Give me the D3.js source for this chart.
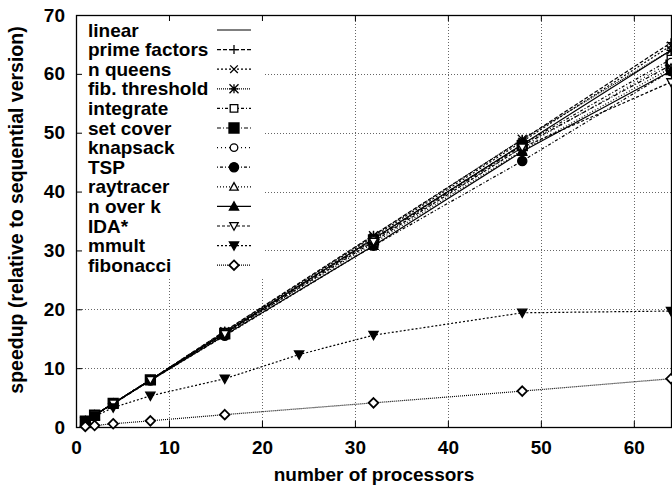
<!DOCTYPE html>
<html><head><meta charset="utf-8">
<script src="https://cdn.jsdelivr.net/npm/d3@7"></script>
<style>body{margin:0;background:#fff}svg{display:block}text{font-family:"Liberation Sans",Arial,sans-serif;font-weight:bold;fill:#000}</style>
</head><body><div id="chart"></div>
<script>
const processors = [1, 2, 4, 8, 16, 32, 48, 64];
const mmultProcessors = [1, 2, 4, 8, 16, 24, 32, 48, 64];
const xTicks = [0, 10, 20, 30, 40, 50, 60];
const yTicks = [0, 10, 20, 30, 40, 50, 60, 70];
const linear = [1, 2, 4, 8, 16, 32, 48, 64];
const primeFactors = [1, 2, 4, 8, 16.3, 32.6, 48.8, 65.3];
const nQueens = [1, 2, 4, 8, 16.2, 32.3, 48.5, 64.8];
const fibThreshold = [1, 2, 4, 8, 16.2, 32.5, 48.9, 64];
const integrate = [1, 2, 4, 8, 16, 32, 48, 62.5];
const setCover = [1, 2, 4, 8, 15.9, 31.8, 47.8, 61.5];
const knapsack = [1, 2, 4, 8, 16, 31.7, 47.5, 62];
const tsp = [1, 2, 3.9, 7.9, 15.5, 30.8, 45.2, 60.5];
const raytracer = [1, 2, 4, 8, 15.8, 31.2, 47, 61];
const nOverK = [1, 2, 4, 7.9, 15.6, 30.8, 46.8, 60.5];
const idaStar = [1, 2, 4, 8, 15.8, 31.5, 47.5, 58.6];
const mmult = [0.95, 1.8, 3.3, 5.3, 8.2, 12.3, 15.6, 19.4, 19.7];
const fibonacci = [0.1, 0.25, 0.55, 1.05, 2.1, 4.1, 6.1, 8.2];

const series = [
  {name: "linear", x: processors, y: linear, dash: null, marker: null},
  {name: "prime factors", x: processors, y: primeFactors, dash: "4,2", marker: "plus"},
  {name: "n queens", x: processors, y: nQueens, dash: "2,2", marker: "cross"},
  {name: "fib. threshold", x: processors, y: fibThreshold, dash: "1,1", marker: "star"},
  {name: "integrate", x: processors, y: integrate, dash: "3,2,1,2", marker: "square"},
  {name: "set cover", x: processors, y: setCover, dash: "4,2,1,2", marker: "squareF"},
  {name: "knapsack", x: processors, y: knapsack, dash: "1,3", marker: "circle"},
  {name: "TSP", x: processors, y: tsp, dash: "1,2,3,2", marker: "circleF"},
  {name: "raytracer", x: processors, y: raytracer, dash: "1,2", marker: "tri"},
  {name: "n over k", x: processors, y: nOverK, dash: null, marker: "triF"},
  {name: "IDA*", x: processors, y: idaStar, dash: "3,2", marker: "triD"},
  {name: "mmult", x: mmultProcessors, y: mmult, dash: "2,2", marker: "triDF"},
  {name: "fibonacci", x: processors, y: fibonacci, dash: "1,1", marker: "diamond"}
];

const W = 672, H = 487;
const m = {left: 76, top: 15, right: 671, bottom: 427};
const svg = d3.select("#chart").append("svg").attr("width", W).attr("height", H);
const x = d3.scaleLinear().domain([0, 64]).range([m.left, m.right]);
const y = d3.scaleLinear().domain([0, 70]).range([m.bottom, m.top]);

// grid
const grid = svg.append("g").attr("stroke", "#666").attr("stroke-width", 1).attr("stroke-dasharray", "1,2");
xTicks.filter(t => t > 0).forEach(t => grid.append("line").attr("x1", Math.round(x(t)) + .5).attr("x2", Math.round(x(t)) + .5).attr("y1", m.top).attr("y2", m.bottom));
yTicks.filter(t => t > 0 && t < 70).forEach(t => grid.append("line").attr("x1", m.left).attr("x2", m.right).attr("y1", Math.round(y(t)) + .5).attr("y2", Math.round(y(t)) + .5));

// legend background
const legX = 77, legY = 16, legW = 186, legH = 261;
svg.append("rect").attr("x", legX).attr("y", legY).attr("width", legW).attr("height", legH).attr("fill", "#fff");

// axes
const fs = 19;
const xAxis = d3.axisBottom(x).tickValues(xTicks).tickSizeInner(-6).tickSizeOuter(0).tickPadding(14);
const gx = svg.append("g").attr("transform", `translate(0,${m.bottom})`).call(xAxis);
gx.selectAll("text").attr("font-size", fs).attr("font-family", "Liberation Sans, Arial").attr("font-weight", "bold");
const xTop = d3.axisTop(x).tickValues(xTicks).tickSizeInner(-6).tickSizeOuter(0).tickFormat("");
svg.append("g").attr("transform", `translate(0,${m.top})`).call(xTop);
const yAxis = d3.axisLeft(y).tickValues(yTicks).tickSizeInner(-6).tickSizeOuter(0).tickPadding(11);
const gy = svg.append("g").attr("transform", `translate(${m.left},0)`).call(yAxis);
gy.selectAll("text").attr("font-size", fs).attr("font-family", "Liberation Sans, Arial").attr("font-weight", "bold");
svg.selectAll(".domain").remove();
svg.selectAll(".tick line").attr("stroke", "#000");
svg.append("rect").attr("x", m.left + .5).attr("y", m.top + .5).attr("width", m.right - m.left).attr("height", m.bottom - m.top)
  .attr("fill", "none").attr("stroke", "#000").attr("stroke-width", 1.3);

// marker paths
function markerPath(type, s) {
  const r = s;
  switch (type) {
    case "plus": return `M${-r},0H${r}M0,${-r}V${r}`;
    case "cross": return `M${-r},${-r}L${r},${r}M${-r},${r}L${r},${-r}`;
    case "star": return `M${-r},0H${r}M0,${-r}V${r}M${-r},${-r}L${r},${r}M${-r},${r}L${r},${-r}`;
    case "square": case "squareF": return `M${-r},${-r}H${r}V${r}H${-r}Z`;
    case "circle": case "circleF": return `M${r},0A${r},${r},0,1,1,${-r},0A${r},${r},0,1,1,${r},0Z`;
    case "tri": case "triF": return `M0,${-r}L${r},${r * 0.8}L${-r},${r * 0.8}Z`;
    case "triD": case "triDF": return `M0,${r}L${r},${-r * 0.8}L${-r},${-r * 0.8}Z`;
    case "diamond": return `M0,${-r}L${r},0L0,${r}L${-r},0Z`;
  }
  return "";
}
const filled = t => t.endsWith("F");
const msize = {plus: 4.5, cross: 3.8, star: 4.5, square: 3.8, squareF: 5, circle: 3.8, circleF: 4.6, tri: 4.2, triF: 4.6, triD: 4.2, triDF: 4.6, diamond: 4.8};

const line = d3.line().x(d => x(d[0])).y(d => y(d[1]));
const plot = svg.append("g");
series.forEach(s => {
  const pts = s.x.map((v, i) => [v, s.y[i]]);
  plot.append("path").attr("d", line(pts)).attr("fill", "none").attr("stroke", "#000").attr("stroke-width", 1.2)
    .attr("stroke-dasharray", s.dash);
  if (s.marker) {
    plot.selectAll(null).data(pts).join("path")
      .attr("transform", d => `translate(${x(d[0])},${y(d[1])})`)
      .attr("d", markerPath(s.marker, msize[s.marker]))
      .attr("fill", filled(s.marker) ? "#000" : (["plus","cross","star"].includes(s.marker) ? "none" : "#fff"))
      .attr("stroke", "#000").attr("stroke-width", s.marker === "diamond" ? 1.8 : 1.3);
  }
});

// legend
const leg = svg.append("g");
series.forEach((s, i) => {
  const ly = 30 + i * 19.6;
  leg.append("text").attr("x", 88).attr("y", ly).attr("dy", "0.35em").attr("font-size", fs).text(s.name);
  leg.append("line").attr("x1", 217).attr("x2", 251).attr("y1", ly).attr("y2", ly).attr("stroke", "#000").attr("stroke-width", 1.2)
    .attr("stroke-dasharray", s.dash);
  if (s.marker) {
    leg.append("path").attr("transform", `translate(234,${ly})`).attr("d", markerPath(s.marker, msize[s.marker]))
      .attr("fill", filled(s.marker) ? "#000" : (["plus","cross","star"].includes(s.marker) ? "none" : "#fff"))
      .attr("stroke", "#000").attr("stroke-width", s.marker === "diamond" ? 1.8 : 1.3);
  }
});

// axis titles
svg.append("text").attr("x", 374).attr("y", 474).attr("dy", "0.35em").attr("text-anchor", "middle").attr("font-size", fs).text("number of processors");
svg.append("text").attr("transform", "translate(16,210) rotate(-90)").attr("dy", "0.35em").attr("text-anchor", "middle").attr("font-size", 19.5).text("speedup (relative to sequential version)");
</script></body></html>
